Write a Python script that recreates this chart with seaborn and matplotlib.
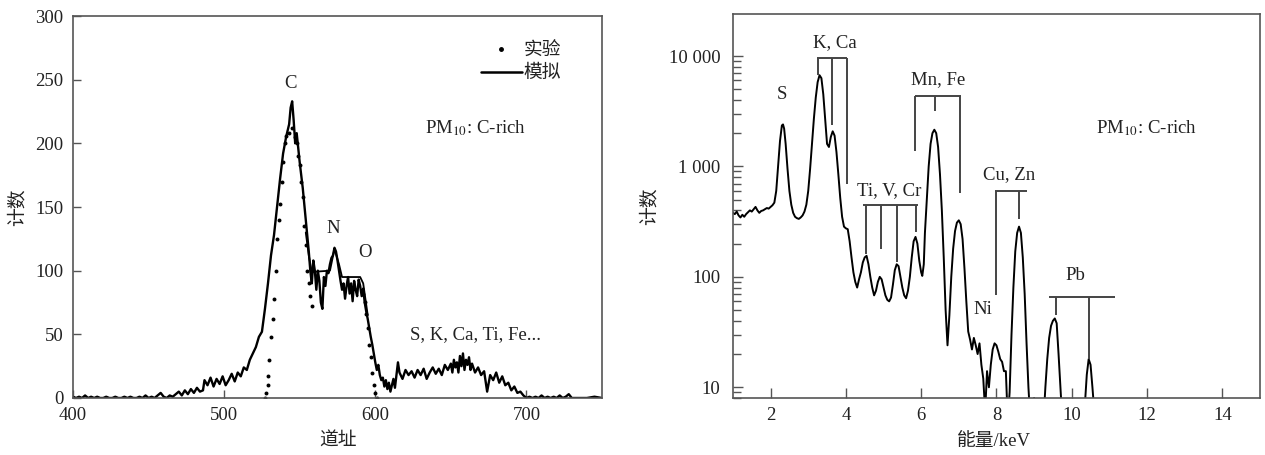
import numpy as np
import pandas as pd
import matplotlib
matplotlib.use("Agg")
import matplotlib.pyplot as plt
from matplotlib.lines import Line2D
from matplotlib.ticker import FixedLocator, FixedFormatter, NullFormatter
import seaborn as sns

# ---------------- data: left panel (channel spectrum) ----------------
sim_channel = [400, 402, 404, 406, 408, 410, 412, 414, 416, 418, 420, 422, 424, 426, 428, 430, 432, 434, 436, 438,
               440, 442, 444, 446, 448, 450, 452, 454, 456, 458, 460, 462, 464, 466, 468, 470, 472, 474, 476, 478,
               480, 482, 484, 486, 487, 489, 491, 493, 495, 497, 499, 501, 503, 505, 507, 509, 511, 513, 515, 517,
               519, 521, 523, 525, 527, 529, 531, 533, 535, 537, 539, 541, 542, 543, 544, 545, 546, 547, 548, 550,
               552, 554, 556, 557, 558, 559, 560, 561, 562, 563, 564, 565, 566, 567, 568, 569, 570, 571, 572, 573,
               574, 575, 576, 577, 578, 579, 580, 581, 582, 583, 584, 585, 586, 587, 588, 589, 590, 591, 592, 593,
               594, 595, 596, 597, 598, 599, 600, 601, 602, 603, 604, 605, 606, 607, 608, 609, 610, 611, 612, 613,
               614, 615, 616, 618, 620, 622, 624, 626, 628, 630, 632, 634, 636, 638, 640, 642, 644, 646, 648, 650,
               651, 652, 653, 654, 655, 656, 657, 658, 659, 660, 661, 662, 663, 664, 666, 668, 670, 672, 674, 676,
               678, 680, 682, 684, 686, 688, 690, 692, 694, 696, 698, 700, 702, 704, 706, 708, 710, 712, 714, 716,
               718, 720, 722, 724, 726, 728, 730, 735, 740, 745, 750]
sim_counts = [1, 0, 1, 0, 2, 0, 1, 0, 1, 0, 0, 1, 0, 0, 1, 0, 0, 1, 0, 1,
              0, 0, 1, 0, 2, 0, 1, 0, 2, 4, 1, 0, 2, 1, 3, 5, 2, 6, 3, 7,
              4, 8, 5, 6, 14, 10, 16, 9, 15, 11, 17, 10, 14, 19, 13, 20, 17, 24, 22, 30,
              35, 40, 48, 52, 70, 90, 112, 128, 150, 172, 192, 205, 210, 215, 228, 233, 218, 200, 208, 185,
              165, 140, 115, 100, 90, 108, 100, 85, 100, 92, 75, 70, 95, 88, 100, 98, 105, 110, 112, 118,
              115, 108, 100, 92, 85, 90, 78, 88, 95, 82, 90, 76, 92, 85, 80, 93, 88, 80, 86, 75,
              68, 62, 55, 48, 42, 35, 28, 22, 26, 18, 14, 16, 9, 14, 7, 12, 5, 10, 15, 8,
              18, 28, 20, 15, 22, 18, 21, 16, 22, 18, 23, 15, 20, 24, 19, 23, 18, 26, 22, 27,
              20, 30, 24, 28, 20, 33, 25, 35, 22, 30, 26, 32, 22, 27, 20, 24, 18, 21, 5, 18,
              14, 20, 12, 17, 10, 12, 6, 9, 4, 5, 2, 0, 1, 0, 1, 0, 2, 0, 1, 0,
              1, 0, 2, 0, 1, 3, 0, 0, 0, 1, 0]

fit_channel = [554, 556, 558, 570, 573, 576, 578, 590, 592, 595]
fit_counts = [130, 112, 99, 100, 117, 105, 95, 95, 90, 65]

exp_channel = [527, 528, 528.7, 529.3, 530, 531, 532, 533, 534, 535, 536, 537, 538, 539, 540, 541, 543, 545,
               547, 548, 549, 550, 551, 552, 553, 554, 555, 556, 557, 558,
               592, 593, 594, 595, 596, 597, 598, 599, 600, 601]
exp_counts = [0, 4, 10, 17, 30, 48, 62, 78, 100, 125, 140, 152, 170, 185, 200, 206, 208, 212,
              205, 200, 190, 183, 170, 158, 135, 120, 100, 90, 80, 72,
              82, 75, 66, 55, 42, 32, 20, 10, 4, 0]

left_xticks = [400, 500, 600, 700]
left_yticks = [0, 50, 100, 150, 200, 250, 300]

# ---------------- data: right panel (X-ray energy spectrum) ----------------
energy_kev = [1.00, 1.05, 1.10, 1.15, 1.20, 1.25, 1.30, 1.35, 1.40, 1.45, 1.50, 1.55, 1.60, 1.65, 1.70, 1.75,
              1.80, 1.85, 1.90, 1.95, 2.00, 2.05, 2.10, 2.15, 2.20, 2.25, 2.30, 2.33, 2.36, 2.40, 2.45, 2.50,
              2.55, 2.60, 2.65, 2.70, 2.75, 2.80, 2.85, 2.90, 2.95, 3.00, 3.05, 3.10, 3.15, 3.20, 3.25, 3.30,
              3.35, 3.40, 3.45, 3.50, 3.55, 3.60, 3.65, 3.70, 3.75, 3.80, 3.85, 3.90, 3.95, 4.00, 4.05, 4.10,
              4.15, 4.20, 4.25, 4.30, 4.35, 4.40, 4.45, 4.50, 4.55, 4.60, 4.65, 4.70, 4.75, 4.80, 4.85, 4.90,
              4.95, 5.00, 5.05, 5.10, 5.15, 5.20, 5.25, 5.30, 5.35, 5.40, 5.45, 5.50, 5.55, 5.60, 5.65, 5.70,
              5.75, 5.80, 5.85, 5.90, 5.95, 6.00, 6.03, 6.07, 6.10, 6.15, 6.20, 6.25, 6.30, 6.35, 6.40, 6.45,
              6.50, 6.55, 6.60, 6.65, 6.70, 6.75, 6.80, 6.85, 6.90, 6.95, 7.00, 7.05, 7.10, 7.15, 7.20, 7.25,
              7.30, 7.35, 7.40, 7.45, 7.50, 7.55, 7.60, 7.65, 7.70, 7.75, 7.80, 7.85, 7.90, 7.95, 8.00, 8.05,
              8.10, 8.15, 8.20, 8.25, 8.30, 8.35, 8.40, 8.45, 8.50, 8.55, 8.60, 8.65, 8.70, 8.75, 8.80, 8.85,
              8.90, 8.95, 9.00, 9.05, 9.10, 9.20, 9.25, 9.30, 9.35, 9.40, 9.45, 9.50, 9.55, 9.60, 9.65, 9.70,
              9.75, 9.80, 10.00, 10.30, 10.35, 10.40, 10.45, 10.50, 10.55, 10.60, 10.65, 11.0, 12.0, 13.0, 14.0, 15.0]
energy_counts = [380, 370, 390, 360, 345, 365, 350, 370, 385, 400, 390, 410, 430, 400, 380, 395,
                 400, 410, 420, 415, 430, 445, 470, 600, 1000, 1700, 2350, 2400, 2200, 1600, 950, 600,
                 450, 380, 350, 340, 335, 345, 360, 390, 450, 600, 950, 1600, 2700, 4200, 5800, 6700,
                 6300, 4500, 2700, 1600, 1500, 1850, 2080, 1900, 1350, 850, 520, 350, 285, 275, 270, 210,
                 150, 110, 90, 80, 95, 110, 135, 150, 155, 130, 100, 80, 68, 75, 90, 100,
                 95, 80, 68, 62, 60, 65, 85, 115, 130, 125, 100, 80, 68, 64, 75, 100,
                 150, 210, 230, 200, 140, 110, 102, 130, 250, 500, 1000, 1600, 2000, 2150, 2000, 1500,
                 850, 400, 150, 50, 24, 45, 100, 180, 260, 310, 325, 300, 220, 120, 60, 32,
                 27, 22, 28, 24, 20, 25, 16, 12, 6, 14, 10, 16, 22, 25, 24, 21,
                 18, 17, 14, 14, 5, 9, 30, 80, 170, 250, 285, 250, 150, 70, 25, 10,
                 5, 5, 8, 5, 4, 4, 5, 10, 18, 28, 36, 40, 42, 38, 20, 10,
                 5, 4, 4, 4, 7, 13, 18, 16, 10, 6, 4, 4, 4, 4, 4, 4]

right_xticks = [2, 4, 6, 8, 10, 12, 14]
right_yticks = [10, 100, 1000, 10000]
right_yticklabels = ["10", "100", "1 000", "10 000"]
right_minor_yticks = [8, 9] + [m * 10 ** d for d in (1, 2, 3) for m in range(2, 10)]

# element marker brackets (energy positions, lower ends, bracket level)
kca_lines, kca_ends, kca_level = [3.26, 3.62, 4.03], [6700, 2390, 690], 9600
mnfe_lines, mnfe_ends, mnfe_level = [5.83, 6.36, 7.02], [1370, 3150, 578], 4300
tivcr_lines, tivcr_ends, tivcr_level = [4.53, 4.94, 5.37, 5.87], [161, 178, 137, 253], 445
cuzn_lines, cuzn_ends, cuzn_level = [8.00, 8.60], [68, 333], 600
pb_lines, pb_ends, pb_level = [9.57, 10.47], [45, 18], 66
kca_span, mnfe_span, tivcr_span, cuzn_span, pb_span = (3.23, 4.02), (5.83, 7.07), (4.46, 5.92), (7.97, 8.81), (9.39, 11.15)

# ---------------- style ----------------
sns.set_style("ticks")
plt.rcParams['font.family'] = ['Liberation Serif', 'Noto Sans CJK SC']
plt.rcParams['mathtext.fontset'] = 'stix'
FS = 13.5
TXT = '#222222'
SPINE = '#555555'

fig = plt.figure(figsize=(12.65, 4.55), dpi=100)
ax1 = fig.add_axes([0.0577, 0.1253, 0.4182, 0.8395])
ax2 = fig.add_axes([0.5794, 0.1253, 0.4166, 0.8439])

# ---------------- left panel ----------------
df_sim = pd.DataFrame({"channel": sim_channel, "counts": sim_counts})
df_fit = pd.DataFrame({"channel": fit_channel, "counts": fit_counts})
df_exp = pd.DataFrame({"channel": exp_channel, "counts": exp_counts})

sns.lineplot(data=df_sim, x="channel", y="counts", ax=ax1, color='black', lw=1.7, estimator=None, sort=False)
sns.lineplot(data=df_fit, x="channel", y="counts", ax=ax1, color='black', lw=1.3, estimator=None, sort=False)
sns.scatterplot(data=df_exp, x="channel", y="counts", ax=ax1, color='black', s=8, linewidth=0)

ax1.set_xlim(400, 750)
ax1.set_ylim(0, 300)
ax1.set_xticks(left_xticks)
ax1.set_yticks(left_yticks)
ax1.set_xlabel("道址", fontsize=FS, color=TXT)
ax1.set_ylabel("计数", fontsize=FS, color=TXT)
ax1.xaxis.set_label_coords(0.5, -0.09)
ax1.yaxis.set_label_coords(-0.087, 0.5)
ax1.tick_params(direction='in', length=6, width=1, colors=SPINE, labelcolor=TXT, labelsize=FS)
ax1.tick_params(axis='x', pad=6.5)
ax1.tick_params(axis='y', pad=7)

ax1.text(544, 247, "C", fontsize=FS, color=TXT, ha='center', va='center')
ax1.text(572, 133, "N", fontsize=FS, color=TXT, ha='center', va='center')
ax1.text(593, 114, "O", fontsize=FS, color=TXT, ha='center', va='center')
ax1.text(633, 212, r"PM$_{10}$: C-rich", fontsize=FS, color=TXT, ha='left', va='center')
ax1.text(623, 49.5, "S, K, Ca, Ti, Fe...", fontsize=FS, color=TXT, ha='left', va='center')

handles = [Line2D([], [], color='black', marker='o', markersize=2.5, linestyle='None'),
           Line2D([], [], color='black', lw=1.8)]
ax1.legend(handles, ["实验", "模拟"], loc='upper right', bbox_to_anchor=(0.955, 0.975), frameon=False,
           fontsize=FS, handlelength=2.2, handletextpad=0.1, labelspacing=0.3, labelcolor=TXT)

# ---------------- right panel ----------------
df_e = pd.DataFrame({"energy": energy_kev, "counts": energy_counts})
sns.lineplot(data=df_e, x="energy", y="counts", ax=ax2, color='black', lw=1.4, estimator=None, sort=False)
ax2.set_yscale('log')
ax2.set_xlim(1, 15)
ax2.set_ylim(8, 24000)
ax2.set_xticks(right_xticks)
ax2.yaxis.set_major_locator(FixedLocator(right_yticks))
ax2.yaxis.set_major_formatter(FixedFormatter(right_yticklabels))
ax2.yaxis.set_minor_locator(FixedLocator(right_minor_yticks))
ax2.yaxis.set_minor_formatter(NullFormatter())
ax2.set_xlabel("能量/keV", fontsize=FS, color=TXT)
ax2.set_ylabel("计数", fontsize=FS, color=TXT)
ax2.xaxis.set_label_coords(0.495, -0.09)
ax2.yaxis.set_label_coords(-0.142, 0.5)
ax2.tick_params(which='major', direction='in', length=7, width=1, colors=SPINE, labelcolor=TXT, labelsize=FS)
ax2.tick_params(which='minor', direction='in', length=5.5, width=1, colors=SPINE)
ax2.tick_params(axis='x', pad=6.5)
ax2.tick_params(axis='y', pad=9)

BR = '#444444'
for lines, ends, level, span in [(kca_lines, kca_ends, kca_level, kca_span),
                                 (mnfe_lines, mnfe_ends, mnfe_level, mnfe_span),
                                 (tivcr_lines, tivcr_ends, tivcr_level, tivcr_span),
                                 (cuzn_lines, cuzn_ends, cuzn_level, cuzn_span),
                                 (pb_lines, pb_ends, pb_level, pb_span)]:
    ax2.hlines(level, span[0], span[1], color=BR, lw=1.4)
    ax2.vlines(lines, ends, level, color=BR, lw=1.4)

ax2.text(2.29, 4450, "S", fontsize=FS, color=TXT, ha='center', va='center')
ax2.text(3.70, 13100, "K, Ca", fontsize=FS, color=TXT, ha='center', va='center')
ax2.text(6.45, 6080, "Mn, Fe", fontsize=FS, color=TXT, ha='center', va='center')
ax2.text(5.16, 600, "Ti, V, Cr", fontsize=FS, color=TXT, ha='center', va='center')
ax2.text(8.34, 850, "Cu, Zn", fontsize=FS, color=TXT, ha='center', va='center')
ax2.text(7.65, 51, "Ni", fontsize=FS, color=TXT, ha='center', va='center')
ax2.text(10.10, 103, "Pb", fontsize=FS, color=TXT, ha='center', va='center')
ax2.text(10.65, 2240, r"PM$_{10}$: C-rich", fontsize=FS, color=TXT, ha='left', va='center')

for ax in (ax1, ax2):
    for sp in ax.spines.values():
        sp.set_visible(True)
        sp.set_color(SPINE)
        sp.set_linewidth(1.2)

fig.savefig("out.png", dpi=100)
